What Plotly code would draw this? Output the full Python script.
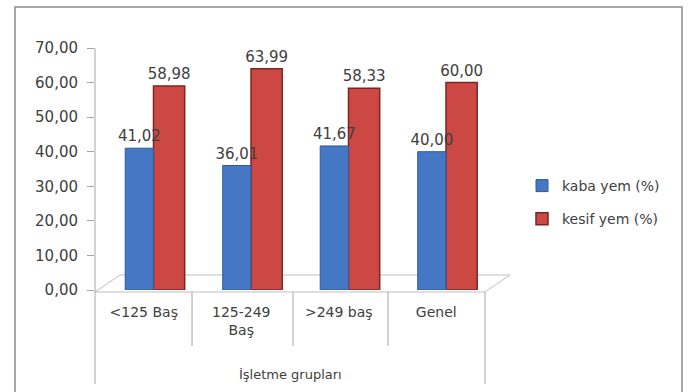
import plotly.graph_objects as go

categories = ["<125 Baş", "125-249<br>Baş", ">249 baş", "Genel"]
kaba = [41.02, 36.01, 41.67, 40.00]
kesif = [58.98, 63.99, 58.33, 60.00]
series_names = ["kaba yem (%)", "kesif yem (%)"]
y_ticks = [0, 10, 20, 30, 40, 50, 60, 70]

W, H = 692, 392
L, R, T, B = 95, 485, 48, 290

def dx(x):
    return (x - L) / (R - L)

def dy(y):
    return (B - y) / (B - T)

font_family = "DejaVu Sans, Verdana, sans-serif"
txt_color = "#404040"

fig = go.Figure()
# red series drawn first so the blue labels stay on top of the red bars
fig.add_trace(go.Bar(
    x=categories, y=kesif, name=series_names[1], legendgroup="b", legendrank=2,
    width=0.32, offset=0.10,
    marker=dict(color="#CC4844", line=dict(color="#7E2422", width=1.5)),
    texttemplate="%{y:.2f}", textposition="outside", cliponaxis=False,
    constraintext="none",
    textfont=dict(size=15, color=txt_color, family=font_family),
))
fig.add_trace(go.Bar(
    x=categories, y=kaba, name=series_names[0], legendgroup="a", legendrank=1,
    width=0.29, offset=-0.19,
    marker=dict(color="#4577C4", line=dict(color="#2E5A9A", width=1)),
    texttemplate="%{y:.2f}", textposition="outside", cliponaxis=False,
    constraintext="none",
    textfont=dict(size=15, color=txt_color, family=font_family),
))

line_col = "#A6A6A6"
shapes = []
shapes.append(dict(type="rect", xref="paper", yref="paper",
                   x0=dx(15), x1=dx(682), y0=dy(7), y1=dy(400),
                   line=dict(color="#8C8C8C", width=1.5), layer="below"))
shapes.append(dict(type="path", xref="paper", yref="paper",
                   path=f"M {dx(95)},{dy(292)} L {dx(485)},{dy(292)} L {dx(510)},{dy(275)} L {dx(120)},{dy(275)} Z",
                   line=dict(color="#BFBFBF", width=1), fillcolor="rgba(0,0,0,0)", layer="below"))
shapes.append(dict(type="line", xref="paper", yref="paper",
                   x0=0, x1=0, y0=dy(T), y1=dy(384), line=dict(color=line_col, width=1)))
shapes.append(dict(type="line", xref="paper", yref="paper",
                   x0=1, x1=1, y0=dy(292), y1=dy(384), line=dict(color=line_col, width=1)))
for xs in [192, 293, 388]:
    shapes.append(dict(type="line", xref="paper", yref="paper",
                       x0=dx(xs), x1=dx(xs), y0=dy(292), y1=dy(346),
                       line=dict(color=line_col, width=1)))

fig.update_layout(
    width=W, height=H,
    margin=dict(l=L, r=W - R, t=T, b=H - B, autoexpand=False),
    paper_bgcolor="white", plot_bgcolor="white",
    separators=",.",
    barmode="group",
    font=dict(family=font_family, color=txt_color, size=14),
    shapes=shapes,
    showlegend=True,
    legend=dict(xref="container", yref="container",
                x=522 / W, y=1 - 170 / H, xanchor="left", yanchor="top",
                font=dict(size=14, color=txt_color, family=font_family),
                itemwidth=30, tracegroupgap=12, bgcolor="rgba(0,0,0,0)"),
    xaxis=dict(showline=False, ticks="", showgrid=False,
               tickfont=dict(size=14, color=txt_color, family=font_family),
               ticklabelstandoff=12),
    yaxis=dict(range=[0, 70], tickvals=y_ticks, tickformat=".2f",
               showgrid=False, showline=False, zeroline=False,
               ticks="outside", ticklen=7, tickcolor=line_col,
               ticklabelstandoff=6,
               tickfont=dict(size=15, color=txt_color, family=font_family)),
    annotations=[dict(text="İşletme grupları", xref="paper", yref="paper",
                      x=0.5, y=dy(374), yanchor="middle", showarrow=False,
                      font=dict(size=13, color=txt_color, family=font_family))],
)

fig.write_html("out.html")
